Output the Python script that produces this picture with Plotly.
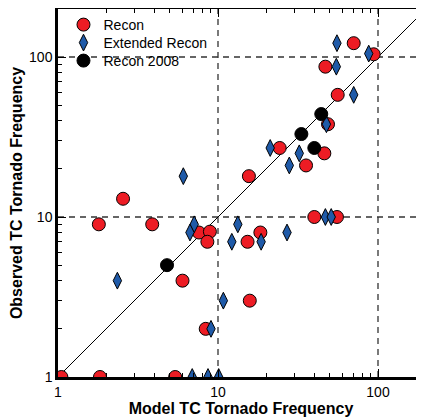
import plotly.graph_objects as go

# ---- data ----
recon_x = [1.05, 1.83, 5.4, 6.0, 2.55, 1.8, 3.88, 7.6, 8.9, 8.58, 15.8, 8.38, 40, 55.4,
           15.3, 18.4, 70.5, 94, 46.9, 56, 48.7, 24.3, 46.2, 35.5, 15.6]
recon_y = [1, 1, 1, 4, 13, 9, 9, 8, 8.1, 7, 3, 2, 10, 10,
           7, 8, 122, 104, 87, 58, 38, 27, 25, 21, 18]

ext_x = [55.4, 87.5, 54.9, 70.5, 47.6, 21.2, 32.2, 27.9, 6.07, 7.1, 6.68, 13.3, 12.2,
         18.6, 27, 46.9, 51, 2.35, 10.8, 9.04, 6.9, 8.66, 10.1]
ext_y = [122, 105, 87, 58, 38, 27, 25, 21, 18, 9, 8, 9, 7,
         7, 8, 10, 10, 4, 3, 2, 1, 1, 1]

r2008_x = [4.8, 33.2, 44.2, 40]
r2008_y = [5, 33, 44, 27]

diag = [1, 200]
ref_lines = [10, 100]
major_ticks = [1, 10, 100]
tick_labels = ["1", "10", "100"]
minor_ticks = [2, 3, 4, 5, 6, 7, 8, 9, 20, 30, 40, 50, 60, 70, 80, 90, 200]

FONT = "Liberation Sans, Arial, Helvetica, sans-serif"

fig = go.Figure()

fig.add_trace(go.Scatter(x=diag, y=diag, mode="lines",
                         line=dict(color="black", width=1), showlegend=False,
                         hoverinfo="skip"))

fig.add_trace(go.Scatter(x=recon_x, y=recon_y, mode="markers", name="Recon",
                         legend="legend",
                         marker=dict(symbol="circle", size=13, color="#ED1C24",
                                     line=dict(color="black", width=1))))
fig.add_trace(go.Scatter(x=ext_x, y=ext_y, mode="markers", name="Extended Recon",
                         legend="legend2",
                         marker=dict(symbol="diamond-tall", size=12, color="#1F5AA8",
                                     line=dict(color="black", width=1))))
fig.add_trace(go.Scatter(x=r2008_x, y=r2008_y, mode="markers", name="Recon 2008",
                         legend="legend3",
                         marker=dict(symbol="circle", size=13, color="black",
                                     line=dict(color="black", width=1))))
# dummy trace to activate mirror axes
fig.add_trace(go.Scatter(x=[None], y=[None], xaxis="x2", yaxis="y2",
                         showlegend=False, hoverinfo="skip"))

for v in ref_lines:
    fig.add_shape(type="line", xref="x", yref="paper", x0=v, x1=v, y0=0, y1=1,
                  line=dict(color="#333333", width=1.3, dash="6px,5px"), layer="below")
    fig.add_shape(type="line", yref="y", xref="paper", y0=v, y1=v, x0=0, x1=1,
                  line=dict(color="#333333", width=1.3, dash="6px,5px"), layer="below")

xr = [0, 366 / 160]
yr = [0, 2.3]

common = dict(type="log", showgrid=False, zeroline=False, ticks="inside",
              tickvals=major_ticks, ticktext=tick_labels, ticklen=8, tickwidth=1,
              tickcolor="black",
              minor=dict(tickvals=minor_ticks, ticks="inside", ticklen=4,
                         tickwidth=1, tickcolor="black", showgrid=False))

def leg(y):
    return dict(x=0.015, y=y, xanchor="left", yanchor="middle",
                bgcolor="rgba(0,0,0,0)", font=dict(size=14, family=FONT),
                itemsizing="trace")

fig.update_layout(
    width=416, height=410,
    margin=dict(l=50, r=0, t=1, b=41, autoexpand=False),
    paper_bgcolor="white", plot_bgcolor="white",
    font=dict(family=FONT, size=14, color="black"),
    showlegend=True,
    legend=leg(0.9565),
    legend2=leg(0.9076),
    legend3=leg(0.8587),
    xaxis=dict(**common, range=xr, showline=True, linewidth=2.5, linecolor="black",
               mirror=False,
               title=dict(text="<b>Model TC Tornado Frequency</b>",
                          font=dict(size=16, family=FONT), standoff=2),
               tickfont=dict(size=14)),
    yaxis=dict(**common, range=yr, showline=True, linewidth=2.5, linecolor="black",
               mirror=False,
               title=dict(text="<b>Observed TC Tornado Frequency</b>",
                          font=dict(size=16, family=FONT), standoff=8),
               tickfont=dict(size=14)),
    xaxis2=dict(**common, range=xr, overlaying="x", side="top", anchor="y2",
                showline=True, linewidth=1, linecolor="black", showticklabels=False),
    yaxis2=dict(**common, range=yr, overlaying="y", side="right", anchor="x2",
                showline=False, showticklabels=False),
)

fig.write_html("out.html")
